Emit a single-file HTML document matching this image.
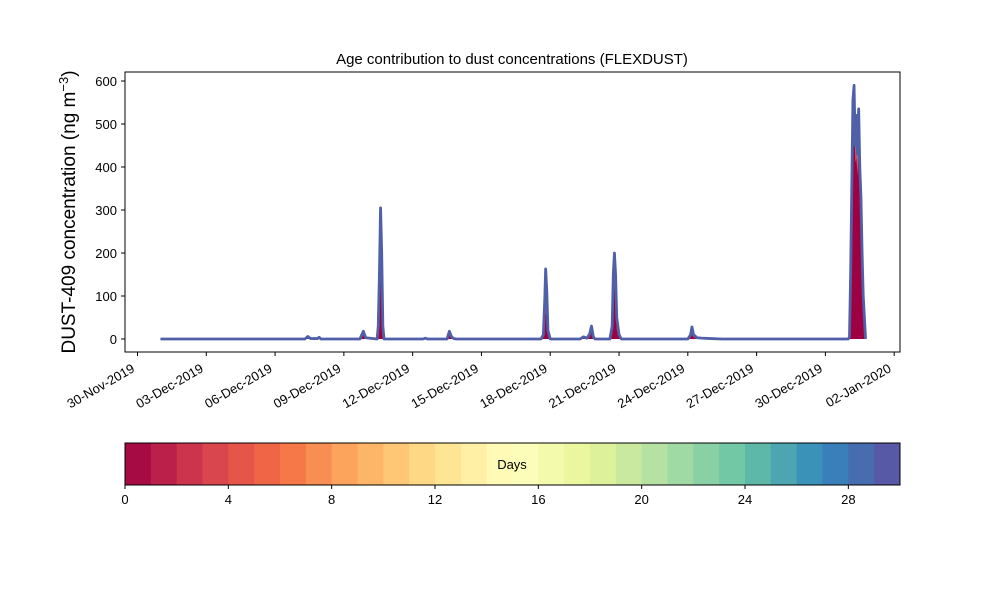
<!DOCTYPE html>
<html><head><meta charset="utf-8"><style>
body{margin:0;background:#fff}
svg{display:block;font-family:"Liberation Sans","DejaVu Sans",sans-serif}
</style></head><body>
<svg id="chart" width="1000" height="600" viewBox="0 0 1000 600">
<rect width="1000" height="600" fill="#fff"/>
<text x="512" y="64" font-size="15" text-anchor="middle">Age contribution to dust concentrations (FLEXDUST)</text>
<text transform="translate(75,212) rotate(-90)" font-size="19" text-anchor="middle">DUST-409 concentration (ng m<tspan dy="-7" font-size="13">−3</tspan><tspan dy="7">)</tspan></text>
<g id="plot"></g>
<rect x="125" y="72" width="775" height="280" fill="none" stroke="#000" stroke-width="1"/>
<g id="xaxis"></g>
<g id="yaxis"></g>
<g id="cbar"></g>
</svg>
<script>
// data: [day since 30-Nov-2019, total concentration, fresh (0-1 day) part]
const days = [1.0,7.3,7.43,7.55,7.85,7.92,8.0,9.7,9.85,9.95,10.45,10.5,10.55,10.6,10.65,10.7,10.75,12.45,12.55,12.65,13.5,13.6,13.7,13.8,13.9,17.6,17.7,17.76,17.8,17.85,17.9,18.0,19.3,19.45,19.6,19.72,19.8,19.88,19.95,20.6,20.7,20.75,20.8,20.85,20.9,21.0,21.1,24.0,24.12,24.18,24.25,24.4,24.6,25.0,25.5,31.0,31.05,31.1,31.15,31.2,31.25,31.3,31.35,31.4,31.45,31.5,31.55,31.6,31.65,31.72,31.75];
const total = [0,0,6,1,1,4,0,0,18,3,0,30,150,305,200,30,0,0,2,0,0,18,5,1,0,0,10,90,163,110,20,0,0,5,2,12,30,5,0,0,30,150,200,150,50,10,0,0,10,28,10,3,2,1,0,0,5,150,350,555,590,450,520,430,535,400,330,200,100,30,0];
const fresh = [0,0,3,0,0,2,0,0,8,1,0,20,60,240,150,20,0,0,0,0,0,8,3,0,0,0,4,30,60,50,8,0,0,2,0,5,15,2,0,0,10,80,130,80,20,4,0,0,4,12,4,1,0,0,0,0,3,100,270,420,540,410,420,380,430,350,280,160,80,20,0];
const yTicks = [0,100,200,300,400,500,600];
const xTickDays = [0,3,6,9,12,15,18,21,24,27,30,33];
const xTickLabels = ["30-Nov-2019","03-Dec-2019","06-Dec-2019","09-Dec-2019","12-Dec-2019","15-Dec-2019","18-Dec-2019","21-Dec-2019","24-Dec-2019","27-Dec-2019","30-Dec-2019","02-Jan-2020"];
const cbTicks = [0,4,8,12,16,20,24,28];
const cbMax = 30;

const NS="http://www.w3.org/2000/svg";
const X = d => 137.5 + d*22.93;
const Y = v => 339 - v*0.43;
function mk(tag, attrs, parent){const e=document.createElementNS(NS,tag);for(const k in attrs)e.setAttribute(k,attrs[k]);parent.appendChild(e);return e;}
const plot=document.getElementById('plot');

function areaPath(vals){
  let d='M'+X(days[0])+','+Y(0);
  days.forEach((t,i)=>{d+=' L'+X(t).toFixed(2)+','+Y(vals[i]).toFixed(2);});
  d+=' L'+X(days[days.length-1])+','+Y(0)+' Z';return d;
}
function linePath(vals){return days.map((t,i)=>(i?'L':'M')+X(t).toFixed(2)+','+Y(vals[i]).toFixed(2)).join(' ');}
const aTot=mk('path',{d:areaPath(total),fill:'#3f8fb8',stroke:'none'},plot);


const aMid=mk('path',{d:areaPath(total.map((v,i)=>fresh[i]+(v-fresh[i])*0.4)),fill:'#d8485a',stroke:'none'},plot);


const aFresh=mk('path',{d:areaPath(fresh),fill:'#9e0142',stroke:'none'},plot);


const lTot=mk('path',{d:linePath(total),fill:'none',stroke:'#5060a8','stroke-width':2.8,'stroke-linejoin':'round'},plot);



const ya=document.getElementById('yaxis');
yTicks.forEach(v=>{
  mk('line',{x1:125,x2:121,y1:Y(v),y2:Y(v),stroke:'#000'},ya);
  const t=mk('text',{x:117,y:Y(v)+5,'font-size':13,'text-anchor':'end'},ya);t.textContent=v;
  
  
});
const xa=document.getElementById('xaxis');
xTickDays.forEach((d,i)=>{
  const x=X(d);
  mk('line',{x1:x,x2:x,y1:352,y2:356,stroke:'#000'},xa);
  const t=mk('text',{transform:`translate(${x-2},${371}) rotate(-30)`,'font-size':13,'text-anchor':'end'},xa);
  t.textContent=xTickLabels[i];
  
  
});

// colorbar (Spectral, 30 bins)
const anchors=["#9e0142","#d53e4f","#f46d43","#fdae61","#fee08b","#ffffbf","#e6f598","#abdda4","#66c2a5","#3288bd","#5e4fa2"];
function hex(h){return [1,3,5].map(i=>parseInt(h.substr(i,2),16));}
function spectral(t){const p=t*10,i=Math.min(9,Math.floor(p)),f=p-i,a=hex(anchors[i]),b=hex(anchors[i+1]);return 'rgb('+a.map((c,k)=>Math.round(c+(b[k]-c)*f)).join(',')+')';}
const cb=document.getElementById('cbar');
const cx=v=>125+v/cbMax*775;
for(let i=0;i<cbMax;i++){
  const r=mk('rect',{x:cx(i),y:443,width:775/cbMax+0.5,height:42,fill:spectral((i+0.5)/cbMax)},cb);
  
  
}
mk('rect',{x:125,y:443,width:775,height:42,fill:'none',stroke:'#000'},cb);
const lab=mk('text',{x:512,y:469,'font-size':13,'text-anchor':'middle'},cb);lab.textContent='Days';


cbTicks.forEach(v=>{
  mk('line',{x1:cx(v),x2:cx(v),y1:485,y2:489,stroke:'#000'},cb);
  const t=mk('text',{x:cx(v),y:504,'font-size':13,'text-anchor':'middle'},cb);t.textContent=v;
  
  
});
</script>
</body></html>
